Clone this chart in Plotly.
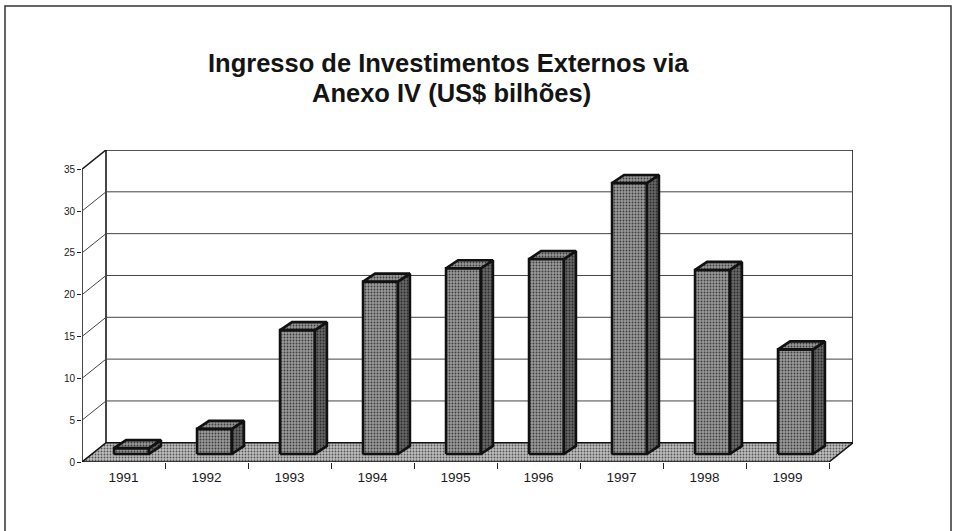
import plotly.graph_objects as go

# ---------------- data ----------------
years = ["1991", "1992", "1993", "1994", "1995", "1996", "1997", "1998", "1999"]
values = [0.7, 3.0, 14.8, 20.6, 22.2, 23.3, 32.4, 22.0, 12.5]
y_ticks = [0, 5, 10, 15, 20, 25, 30, 35]
title_lines = ["Ingresso de Investimentos Externos via", "Anexo IV (US$ bilhões)"]

# ---------------- geometry (pseudo-3D, in data units) ----------------
W, H = 959, 531
ML, MR, MT, MB = 82, 106, 150, 69
n = len(years)
ymax = max(y_ticks)
d = 24 / 83.0      # depth of the box, x direction (category units)
e = 2.3            # depth of the box, y direction (value units)
fx, fy = 0.096, 0.96   # offset of bar front faces
bw = 0.42              # bar width
bdx, bdy = 0.145, 0.96  # bar depth

pw = W - ML - MR
ph = H - MT - MB


def px_x(p):
    return (p - ML) / pw


def px_y(p):
    return (H - MB - p) / ph


fig = go.Figure()

# floor
fig.add_trace(go.Scatter(
    x=[-0.5, n - 0.5, n - 0.5 + d, -0.5 + d, -0.5],
    y=[0, 0, e, e, 0],
    mode="lines", fill="toself",
    fillcolor="#b4b4b4",
    fillpattern=dict(shape=".", bgcolor="#bdbdbd", fgcolor="#555555",
                     size=3, solidity=0.3, fillmode="replace"),
    line=dict(color="#111111", width=1.5),
    hoverinfo="skip", showlegend=False))

# bars
fxs, fys, sxs, sys_, txs, tys = [], [], [], [], [], []
for k, v in enumerate(values):
    x0 = k + fx - bw / 2
    x1 = x0 + bw
    y0 = fy
    y1 = fy + v
    fxs += [x0, x1, x1, x0, x0, None]
    fys += [y0, y0, y1, y1, y0, None]
    sxs += [x1, x1 + bdx, x1 + bdx, x1, x1, None]
    sys_ += [y0, y0 + bdy, y1 + bdy, y1, y0, None]
    txs += [x0, x1, x1 + bdx, x0 + bdx, x0, None]
    tys += [y1, y1, y1 + bdy, y1 + bdy, y1, None]

face_styles = [
    (fxs, fys, "#8e8e8e", "#9a9a9a", "#3c3c3c"),
    (sxs, sys_, "#5c5c5c", "#666666", "#2a2a2a"),
    (txs, tys, "#8a8a8a", "#969696", "#3c3c3c"),
]
for xs, ys, fc, bg, fg in face_styles:
    fig.add_trace(go.Scatter(
        x=xs, y=ys, mode="lines", fill="toself",
        fillcolor=fc,
        fillpattern=dict(shape=".", bgcolor=bg, fgcolor=fg,
                         size=3, solidity=0.3, fillmode="replace"),
        line=dict(color="#111111", width=2.6),
        hoverinfo="skip", showlegend=False))

shapes = []
line_k = dict(color="#1a1a1a", width=1.6)
grid_k = dict(color="#444444", width=1)
# back wall frame
shapes.append(dict(type="path", xref="x", yref="y", layer="below",
                   path=f"M {-0.5 + d} {e} L {-0.5 + d} {ymax + e} L {n - 0.5 + d} {ymax + e} L {n - 0.5 + d} {e}",
                   line=line_k))
# front vertical axis and top diagonal
shapes.append(dict(type="line", xref="x", yref="y", layer="below",
                   x0=-0.5, y0=0, x1=-0.5, y1=ymax, line=line_k))
shapes.append(dict(type="line", xref="x", yref="y", layer="below",
                   x0=-0.5, y0=ymax, x1=-0.5 + d, y1=ymax + e, line=line_k))
# gridlines: back wall horizontals and side-wall diagonals
for t in y_ticks[1:-1]:
    shapes.append(dict(type="line", xref="x", yref="y", layer="below",
                       x0=-0.5 + d, y0=t + e, x1=n - 0.5 + d, y1=t + e, line=grid_k))
    shapes.append(dict(type="line", xref="x", yref="y", layer="below",
                       x0=-0.5, y0=t, x1=-0.5 + d, y1=t + e, line=grid_k))

# page border
shapes.append(dict(type="path", xref="paper", yref="paper", layer="below",
                   path=(f"M {px_x(5)} {px_y(540)} L {px_x(5)} {px_y(6)} "
                         f"L {px_x(951)} {px_y(6)} L {px_x(951)} {px_y(540)}"),
                   line=dict(color="#333333", width=1.5)))

title_font = dict(family="Liberation Sans, Arial", size=25.5, color="#141414", weight="bold")
annotations = [
    dict(text=title_lines[0], xref="paper", yref="paper", x=px_x(448), y=px_y(63),
         xanchor="center", yanchor="middle", showarrow=False, font=title_font),
    dict(text=title_lines[1], xref="paper", yref="paper", x=px_x(451), y=px_y(93),
         xanchor="center", yanchor="middle", showarrow=False, font=title_font),
]

fig.update_layout(
    width=W, height=H,
    margin=dict(l=ML, r=MR, t=MT, b=MB),
    paper_bgcolor="white", plot_bgcolor="rgba(0,0,0,0)",
    showlegend=False,
    shapes=shapes,
    annotations=annotations,
    xaxis=dict(range=[-0.5, n - 0.5 + d], tickmode="array",
               tickvals=list(range(n)), ticktext=years,
               ticks="outside", ticklen=3, tickcolor="rgba(0,0,0,0)",
               showgrid=False, zeroline=False, showline=False,
               tickfont=dict(family="Liberation Sans, Arial", size=13.5, color="#1a1a1a"),
               minor=dict(tickmode="array", tickvals=[k + 0.5 for k in range(n)],
                          ticks="outside", ticklen=6, tickcolor="#222222",
                          tickwidth=1, showgrid=False),
               fixedrange=True),
    yaxis=dict(range=[0, ymax + e], tickmode="array", tickvals=y_ticks,
               ticktext=[str(t) for t in y_ticks],
               ticks="outside", ticklen=4, tickcolor="#222222",
               showgrid=False, zeroline=False, showline=False,
               tickfont=dict(family="Liberation Sans Narrow, Arial Narrow, Liberation Sans", size=10, color="#1a1a1a"),
               fixedrange=True),
)

fig.write_html("out.html", config={"displayModeBar": False, "staticPlot": True},
               post_script="document.body.style.margin='0';")
